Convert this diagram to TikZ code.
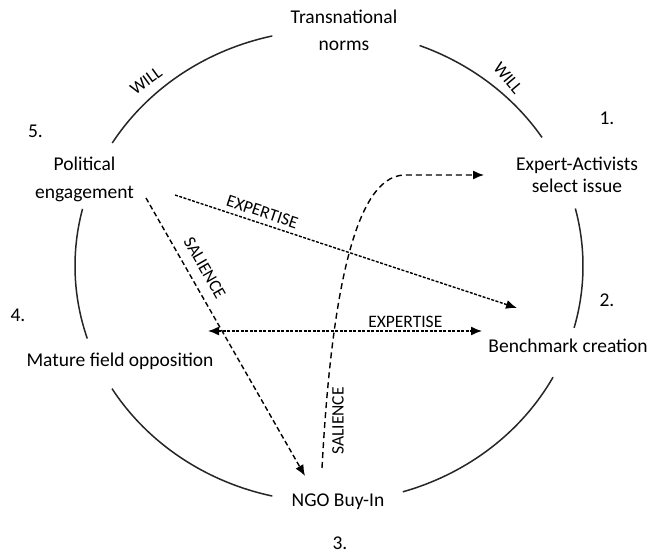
\documentclass[tikz,border=0pt]{standalone}
\usepackage{fontspec}
\setmainfont{Carlito}
\usetikzlibrary{arrows.meta}
\tikzset{
  maintext/.style={font=\fontsize{19.5}{27}\selectfont, inner sep=0pt, align=center},
  numtext/.style={font=\fontsize{19.5}{24}\selectfont, inner sep=0pt},
  lbl/.style={font=\fontsize{17.5}{20}\selectfont, inner sep=1pt},
  ring/.style={line width=1.5pt, black!85},
  tipstyle/.style={-{Latex[length=11pt,width=9pt]}},
  fineDash/.style={line width=1.4pt, dash pattern=on 3pt off 1.5pt},
  midDash/.style={line width=1.4pt, dash pattern=on 5pt off 3pt},
  wideDash/.style={line width=1.4pt, dash pattern=on 6pt off 4pt},
}
\begin{document}
\begin{tikzpicture}[x=1pt, y=-1pt]
\useasboundingbox (0,0) rectangle (650,554);
\fill[white] (0,0) rectangle (650,554);

% ring arcs
\coordinate (c) at (329,266);
\foreach \a/\b in {-148.6/-102.9, -69.1/-33.0, -14.1/15.2, 28.1/73.1, 102.9/148.7, 162.1/194.0}{
  \draw[ring] (c) ++(\a:254 and 236) arc[start angle=\a, end angle=\b, x radius=254, y radius=236];
}

% nodes
\node[maintext, font=\fontsize{19.5}{27}\selectfont] (trans) at (344,30) {Transnational\\norms};
\node[numtext] (n1) at (607,118) {1.};
\node[maintext, font=\fontsize{19.5}{22}\selectfont] (expert) at (577,174.5) {Expert-Activists\\select issue};
\node[numtext] (n2) at (607,300.5) {2.};
\node[maintext] (bench) at (568,346) {Benchmark creation};
\node[numtext] (n3) at (340,543) {3.};
\node[maintext] (ngo) at (338,502) {NGO Buy-In};
\node[numtext] (n4) at (18,315) {4.};
\node[maintext] (mature) at (120,361) {Mature field opposition};
\node[numtext] (n5) at (35.5,131) {5.};
\node[maintext, font=\fontsize{19.5}{28}\selectfont] (pol) at (84.5,179) {Political\\engagement};

% WILL labels
\node[lbl, rotate=36] (willL) at (146,81) {WILL};
\node[lbl, rotate=-50] (willR) at (508,78) {WILL};

% connector end points
\coordinate (polE) at (175,195);
\coordinate (benchW) at (517,308);
\coordinate (polS) at (146,198);
\coordinate (ngoN) at (305,476);
\coordinate (matE) at (208,331);
\coordinate (benchL) at (482,331);
\coordinate (ngoU) at (322,468);
\coordinate (expW) at (484,175);

% arrows
\draw[fineDash, tipstyle] (polE) -- node[lbl, sloped, above=4pt, pos=0.245] (expL1) {EXPERTISE} (benchW);
\draw[midDash, tipstyle] (polS) -- node[lbl, sloped, above=9pt, pos=0.28] (salL1) {SALIENCE} (ngoN);
\draw[fineDash, {Latex[length=11pt,width=9pt]}-{Latex[length=11pt,width=9pt]}] (matE) -- node[lbl, above=2pt, pos=0.72] (expL2) {EXPERTISE} (benchL);
\draw[wideDash, tipstyle] (ngoU) .. controls (330,320) and (350,175) .. (405,175) -- (expW);
\node[lbl, rotate=90] (salL2) at (338,421) {SALIENCE};
\end{tikzpicture}
\end{document}
